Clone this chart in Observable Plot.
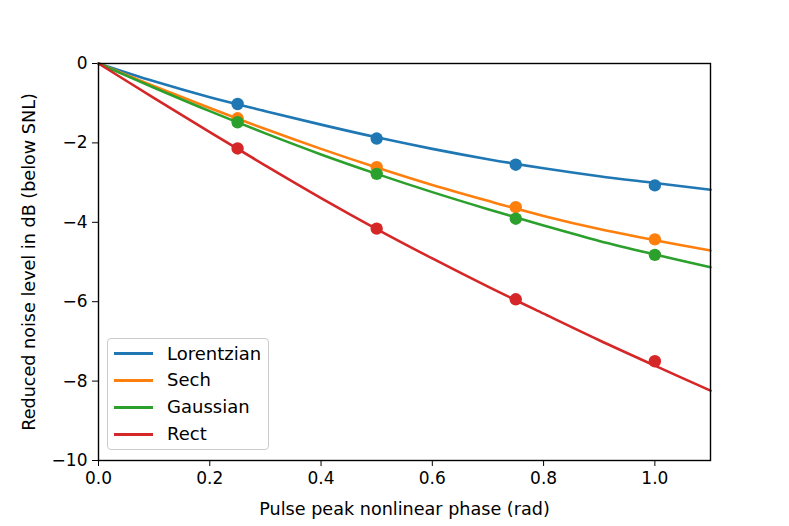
<!DOCTYPE html>
<html>
<head>
<meta charset="utf-8">
<script src="https://cdn.jsdelivr.net/npm/d3@7"></script>
<script src="https://cdn.jsdelivr.net/npm/@observablehq/plot@0.6"></script>
<style>
  html, body { margin: 0; padding: 0; background: #fff; }
  #wrap { position: relative; width: 789px; height: 526px; font-family: "DejaVu Sans", sans-serif; }
  #legend { position: absolute; left: 107px; top: 338px; width: 162px; height: 112px; border: 1px solid #cccccc; border-radius: 4px; background: rgba(255,255,255,0.8); box-sizing: border-box; }
  .row { position: absolute; left: 0; height: 27px; width: 100%; font-size: 18px; color: #000; }
  .sw { position: absolute; left: 6px; width: 39px; height: 3px; }
  .lab { position: absolute; left: 59px; line-height: 18px; }
</style>
</head>
<body>
<div id="wrap"></div>
<script>
const seriesNames = ["Lorentzian", "Sech", "Gaussian", "Rect"];
const seriesColors = ["#1f77b4", "#ff7f0e", "#2ca02c", "#d62728"];

const curveX = [0, 0.1, 0.2, 0.3, 0.4, 0.5, 0.6, 0.7, 0.8, 0.9, 1.0, 1.1];
const lorentzianCurve = [0, -0.45, -0.85, -1.20, -1.54, -1.86, -2.15, -2.41, -2.64, -2.84, -3.01, -3.18];
const sechCurve       = [0, -0.57, -1.12, -1.65, -2.15, -2.62, -3.06, -3.46, -3.84, -4.17, -4.45, -4.71];
const gaussianCurve   = [0, -0.61, -1.20, -1.76, -2.29, -2.78, -3.24, -3.67, -4.08, -4.47, -4.81, -5.13];
const rectCurve       = [0, -0.87, -1.73, -2.57, -3.39, -4.17, -4.91, -5.62, -6.30, -6.97, -7.61, -8.24];

const dotX = [0.25, 0.5, 0.75, 1.0];
const lorentzianDots = [-1.02, -1.89, -2.55, -3.07];
const sechDots       = [-1.38, -2.61, -3.62, -4.43];
const gaussianDots   = [-1.48, -2.78, -3.91, -4.82];
const rectDots       = [-2.14, -4.16, -5.94, -7.50];

const xTicks = [0, 0.2, 0.4, 0.6, 0.8, 1.0];
const yTicks = [0, -2, -4, -6, -8, -10];

const curves = [lorentzianCurve, sechCurve, gaussianCurve, rectCurve];
const dots = [lorentzianDots, sechDots, gaussianDots, rectDots];

const marks = [];
seriesNames.forEach((name, i) => {
  const lineData = curveX.map((x, j) => ({x, y: curves[i][j], series: name}));
  const dotData = dotX.map((x, j) => ({x, y: dots[i][j], series: name}));
  marks.push(Plot.line(lineData, {x: "x", y: "y", stroke: "series", strokeWidth: 2.6, curve: "catmull-rom"}));
  marks.push(Plot.dot(dotData, {x: "x", y: "y", fill: "series", r: 6.2}));
});

const chart = Plot.plot({
  width: 789,
  height: 526,
  marginLeft: 98,
  marginRight: 79,
  marginTop: 63,
  marginBottom: 66,
  style: {fontFamily: "DejaVu Sans", fontSize: "17px", background: "#fff", color: "#000"},
  x: {domain: [0, 1.1], ticks: xTicks, tickFormat: d3.format(".1f"), tickSize: 6, tickPadding: 5,
      label: "Pulse peak nonlinear phase (rad)", labelArrow: "none", labelAnchor: "center", labelOffset: 54},
  y: {domain: [-10, 0], ticks: yTicks, tickFormat: d3.format("d"), tickSize: 6, tickPadding: 5,
      label: "Reduced noise level in dB (below SNL)", labelArrow: "none", labelAnchor: "center", labelOffset: 76},
  color: {domain: seriesNames, range: seriesColors},
  marks: [
    ...marks,
    Plot.frame({stroke: "#000", strokeWidth: 1.4})
  ]
});

d3.select(chart).selectAll('[aria-label="x-axis label"], [aria-label="y-axis label"]')
  .style("font-size", "17.6px")
  .selectAll("text").each(function () {
    this.textContent = this.textContent.replace(/\s*[→↑←↓]\s*/g, "").trim();
  });

const wrap = document.getElementById("wrap");
wrap.appendChild(chart);

const legend = document.createElement("div");
legend.id = "legend";
seriesNames.forEach((name, i) => {
  const row = document.createElement("div");
  row.className = "row";
  row.style.top = (1 + i * 26.9) + "px";
  const sw = document.createElement("div");
  sw.className = "sw";
  sw.style.background = seriesColors[i];
  sw.style.top = "12.2px";
  const lab = document.createElement("div");
  lab.className = "lab";
  lab.style.top = "4.5px";
  lab.textContent = name;
  row.appendChild(sw);
  row.appendChild(lab);
  legend.appendChild(row);
});
wrap.appendChild(legend);
</script>
</body>
</html>
